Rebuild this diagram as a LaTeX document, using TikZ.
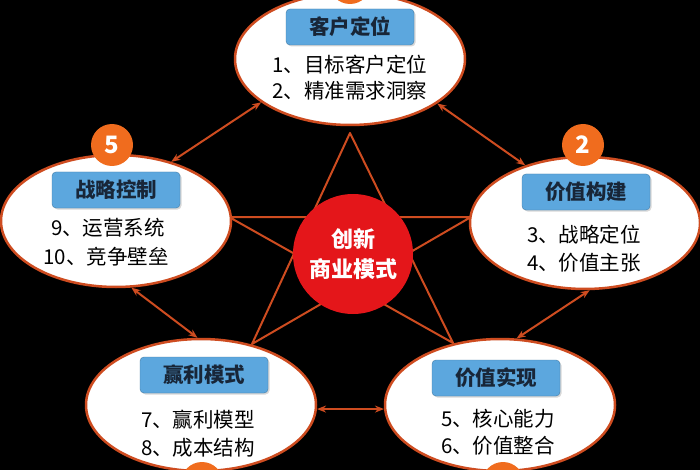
\documentclass[tikz,border=0pt]{standalone}
\usepackage{fontspec}
\newfontfamily\cjk{Noto Sans CJK SC}
\usetikzlibrary{shapes.geometric,arrows.meta,shadows}
\definecolor{rim}{RGB}{206,76,32}
\definecolor{tag}{RGB}{92,167,222}
\definecolor{ink}{RGB}{24,38,56}
\definecolor{dot}{RGB}{240,108,30}
\definecolor{hubred}{RGB}{228,22,26}

\begin{document}
\begin{tikzpicture}[x=1pt,y=-1pt,
        oval/.style={ellipse,draw=rim,line width=2.5pt,fill=white,
          minimum width=230pt,minimum height=132pt,inner sep=0pt},
        title/.style={rounded corners=4pt,fill=tag,draw=tag!75!black,
          minimum width=128pt,minimum height=36pt,text=ink,
          font=\cjk\bfseries\fontsize{20.5}{20}\selectfont,
          drop shadow={shadow xshift=1.5pt,shadow yshift=-1.5pt,fill=black!30}},
        item/.style={font=\cjk\fontsize{20.5}{24}\selectfont},
        num/.style={circle,fill=dot,minimum size=42pt,inner sep=0pt,text=white,
          font=\cjk\bfseries\fontsize{24}{24}\selectfont},
        hub/.style={circle,fill=hubred,minimum size=120pt,inner sep=0pt,
          text=white,align=center,font=\cjk\bfseries\fontsize{22}{30}\selectfont},
        link/.style={{Stealth[length=9pt,width=7pt]}-{Stealth[length=9pt,width=7pt]},
          draw=rim,line width=2pt},
        starline/.style={draw=rim,line width=2pt,line join=round}]
        \useasboundingbox (0,0) rectangle (700,470) ;
        \fill[black] (0,0) rectangle (700,470) ;
        % the star behind the boxes
        \coordinate (s1) at (350,133) ;
        \coordinate (s2) at (229,217) ;
        \coordinate (s3) at (471,217) ;
        \coordinate (s4) at (252,344) ;
        \coordinate (s5) at (453,343) ;
        \draw[starline] (s1) -- (s4) -- (s3) -- (s2) -- (s5) -- cycle ;
        % top
        \node[oval] (cust) at (350,59) {} ;
        \node[title] (custt) at (350,27) {客户定位} ;
        \node[item] (cust1) at (350,65) {1、目标客户定位} ;
        \node[item] (cust2) at (350,91) {2、精准需求洞察} ;
        \node[num] (n1) at (350,-17) {} ; % number lies off the page
        % right
        \node[oval] (build) at (585,223) {} ;
        \node[title] (buildt) at (586,192) {价值构建} ;
        \node[item] (build1) at (584,235) {3、战略定位} ;
        \node[item] (build2) at (584,263) {4、价值主张} ;
        \node[num] (n2) at (583,145) {2} ;
        % bottom right
        \node[oval] (real) at (500,405) {} ;
        \node[title] (realt) at (496,378) {价值实现} ;
        \node[item] (real1) at (498,419) {5、核心能力} ;
        \node[item] (real2) at (498,446) {6、价值整合} ;
        \node[num] (n3) at (503,483) {} ;
        % bottom left
        \node[oval] (profit) at (201,405) {} ;
        \node[title] (profitt) at (204,375) {赢利模式} ;
        \node[item] (profit1) at (198,420) {7、赢利模型} ;
        \node[item] (profit2) at (198,448) {8、成本结构} ;
        \node[num] (n4) at (202,483) {} ;
        % left
        \node[oval] (ctrl) at (116,221) {} ;
        \node[title] (ctrlt) at (116,190) {战略控制} ;
        \node[item] (ctrl1) at (108,228) {9、运营系统} ;
        \node[item] (ctrl2) at (106,257) {10、竞争壁垒} ;
        \node[num] (n5) at (112,145) {5} ;
        % centre
        \node[hub] (hub) at (353,254) {创新\\商业模式} ;
        % arrows
        \draw[link] (cust.206) -- (ctrl.47) ;
        \draw[link] (cust.333) -- (build.136) ;
        \draw[link] (ctrl.283) -- (profit.93) ;
        \draw[link] (build.274) -- (real.76) ;
        \draw[link] (profit.358) -- (real.182) ;
      \end{tikzpicture}
\end{document}
